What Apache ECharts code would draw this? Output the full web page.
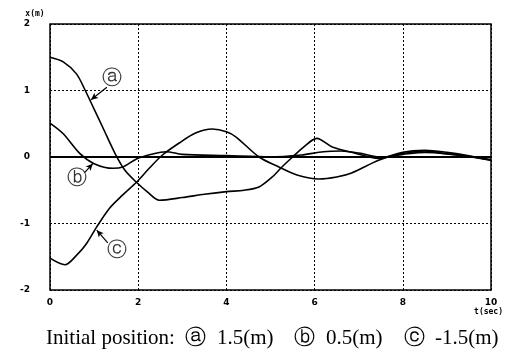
<!DOCTYPE html>
<html>
<head>
<meta charset="utf-8">
<script src="https://cdn.jsdelivr.net/npm/echarts@6/dist/echarts.min.js"></script>
<style>
  html, body { margin: 0; padding: 0; background: #fff; }
  #main { width: 506px; height: 355px; }
</style>
</head>
<body>
<div id="main"></div>
<script type="text/javascript">
// 曲线 a: 初始位置 1.5 m
var tA = [0, 0.3, 0.6, 0.8, 1.0, 1.2, 1.47, 1.7, 1.96, 2.2, 2.48, 3.0, 3.5, 4.0, 4.4, 4.74, 5.04, 5.26, 5.5, 5.75, 6.05, 6.4, 6.9, 7.45, 7.97, 8.5, 8.96, 9.55, 10];
var xA = [1.5, 1.43, 1.25, 1.0, 0.72, 0.44, 0.06, -0.2, -0.38, -0.52, -0.65, -0.61, -0.56, -0.52, -0.5, -0.45, -0.3, -0.15, 0.0, 0.15, 0.28, 0.15, 0.06, -0.02, 0.05, 0.09, 0.05, 0.0, -0.05];
// 曲线 b: 初始位置 0.5 m
var tB = [0, 0.3, 0.68, 1.0, 1.43, 1.65, 1.96, 2.3, 2.63, 3.0, 4.0, 5.0, 5.7, 6.2, 6.6, 7.0, 7.5, 8.0, 8.5, 9.0, 9.5, 10];
var xB = [0.51, 0.35, 0.05, -0.1, -0.17, -0.15, -0.03, 0.04, 0.08, 0.04, 0.02, 0.0, 0.03, 0.08, 0.09, 0.06, 0.0, 0.04, 0.07, 0.05, 0.01, -0.04];
// 曲线 c: 初始位置 -1.5 m
var tC = [0, 0.34, 0.6, 0.83, 1.06, 1.35, 1.65, 1.96, 2.25, 2.55, 2.93, 3.3, 3.68, 4.0, 4.22, 4.74, 5.19, 5.6, 6.1, 6.5, 6.84, 7.45, 8.0, 8.5, 9.0, 9.5, 10];
var xC = [-1.52, -1.62, -1.48, -1.3, -1.05, -0.77, -0.57, -0.38, -0.17, 0.03, 0.21, 0.36, 0.42, 0.38, 0.3, 0.0, -0.15, -0.27, -0.33, -0.3, -0.24, -0.05, 0.07, 0.1, 0.07, 0.02, -0.05];

var xTicks = [0, 2, 4, 6, 8, 10];
var yTicks = [-2, -1, 0, 1, 2];

// 标注 (圆圈字母, 箭头)
var labelNames = ["ⓐ", "ⓑ", "ⓒ"];
var labelPos = [[1.40, 1.17], [0.61, -0.33], [1.51, -1.41]];
var arrowFrom = [[1.29, 1.05], [0.79, -0.23], [1.31, -1.29]];
var arrowTo = [[0.93, 0.86], [0.97, -0.1], [1.06, -1.1]];

var caption = "Initial position:  ⓐ  1.5(m)    ⓑ  0.5(m)    ⓒ  -1.5(m)";

function pairs(ts, xs) {
  return ts.map(function (t, i) { return [t, xs[i]]; });
}

var lineStyle = { color: "#000", width: 1.6 };
var tickFont = { color: "#000", fontSize: 9, fontWeight: "bold", fontFamily: "DejaVu Sans" };

var chart = echarts.init(document.getElementById("main"));
var option = {
  animation: false,
  backgroundColor: "#fff",
  title: {
    text: caption,
    left: 41,
    top: 323,
    textStyle: { fontFamily: "Liberation Serif", fontSize: 21, fontWeight: "normal", color: "#000" }
  },
  grid: {
    left: 50, right: 13, top: 24, bottom: 65,
    show: true, borderColor: "#000", borderWidth: 1.5, backgroundColor: "transparent"
  },
  xAxis: {
    type: "value",
    min: 0, max: 10, interval: 2,
    name: "t(sec)",
    nameLocation: "end",
    nameGap: 0,
    nameTextStyle: { color: "#000", fontSize: 8, fontWeight: "bold", fontFamily: "DejaVu Sans Mono", align: "right", verticalAlign: "top", padding: [18, -12, 0, 0] },
    axisLine: { show: false, onZero: false },
    axisTick: { show: false },
    axisLabel: Object.assign({ margin: 8, formatter: function (v) { return xTicks.indexOf(v) >= 0 ? String(v) : ""; } }, tickFont),
    splitLine: { show: true, lineStyle: { color: "#000", type: [2, 2], width: 1 } }
  },
  yAxis: {
    type: "value",
    min: -2, max: 2, interval: 1,
    name: "x(m)",
    nameLocation: "end",
    nameGap: 6,
    nameTextStyle: { color: "#000", fontSize: 8, fontWeight: "bold", fontFamily: "DejaVu Sans Mono", align: "center", padding: [0, 30, 0, 0] },
    axisLine: { show: false, onZero: false },
    axisTick: { show: false },
    axisLabel: Object.assign({ margin: 20, formatter: function (v) { return yTicks.indexOf(v) >= 0 ? String(v) : ""; } }, tickFont),
    splitLine: { show: true, lineStyle: { color: "#000", type: [2, 2], width: 1 } }
  },
  series: [
    {
      name: "a", type: "line", data: pairs(tA, xA), smooth: 0.3, symbol: "none",
      lineStyle: lineStyle,
      markLine: {
        silent: true, symbol: "none", animation: false,
        lineStyle: { color: "#000", type: "solid", width: 1.8 },
        label: { show: false },
        data: [{ yAxis: 0 }]
      }
    },
    { name: "b", type: "line", data: pairs(tB, xB), smooth: 0.3, symbol: "none", lineStyle: lineStyle },
    { name: "c", type: "line", data: pairs(tC, xC), smooth: 0.3, symbol: "none", lineStyle: lineStyle },
    {
      name: "labels", type: "scatter", symbolSize: 0,
      data: labelPos.map(function (p, i) { return { value: p, name: labelNames[i] }; }),
      label: {
        show: true, position: "inside", formatter: "{b}",
        color: "#000", fontSize: 20, fontFamily: "DejaVu Sans"
      },
      markLine: {
        silent: true, animation: false,
        symbol: ["none", "arrow"], symbolSize: [5, 7],
        lineStyle: { color: "#000", type: "solid", width: 1.2 },
        label: { show: false },
        data: arrowFrom.map(function (p, i) { return [{ coord: p }, { coord: arrowTo[i] }]; })
      }
    }
  ]
};
chart.setOption(option);
</script>
</body>
</html>
